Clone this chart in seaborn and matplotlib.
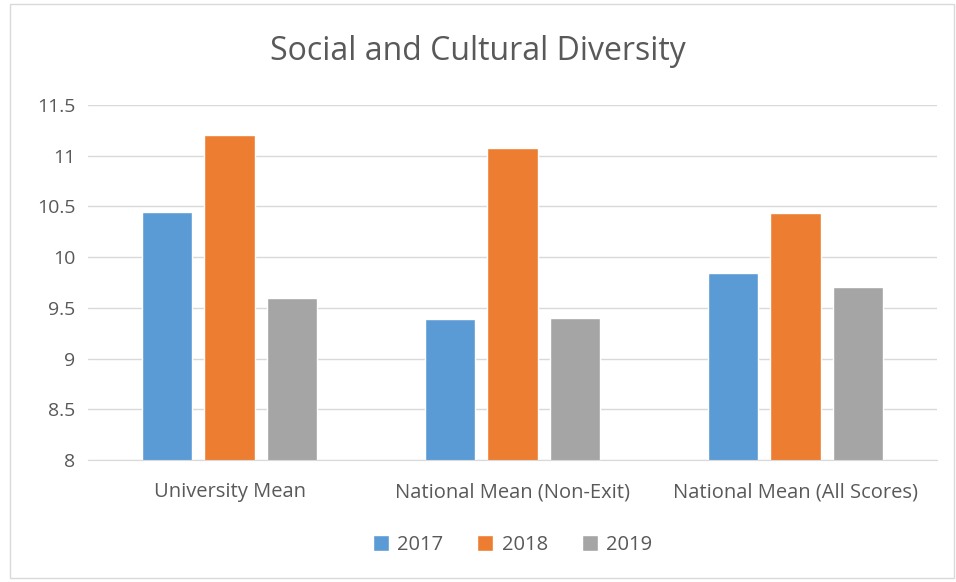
import pandas as pd
import seaborn as sns
import matplotlib.pyplot as plt
from matplotlib.patches import Rectangle

# Values
categories = ["University Mean", "National Mean (Non-Exit)", "National Mean (All Scores)"]
years = ["2017", "2018", "2019"]
scores_2017 = [10.45, 9.39, 9.84]
scores_2018 = [11.20, 11.08, 10.44]
scores_2019 = [9.60, 9.40, 9.71]

df = pd.DataFrame({
    "category": categories * 3,
    "year": [y for y in years for _ in categories],
    "score": scores_2017 + scores_2018 + scores_2019,
})

palette = {"2017": "#5B9BD5", "2018": "#ED7D31", "2019": "#A5A5A5"}
text_color = "#595959"

sns.set_style("white")
plt.rcParams["font.family"] = ["Open Sans", "DejaVu Sans"]

fig = plt.figure(figsize=(9.56, 5.82), dpi=100)
ax = fig.add_axes([88 / 956, 1 - 460 / 582, (937 - 88) / 956, (460 - 105) / 582])

sns.barplot(data=df, x="category", y="score", hue="year", palette=palette,
            width=0.663, gap=0.2, ax=ax, legend=True, saturation=1)

ax.set_ylim(8, 11.5)
ax.set_yticks([8, 8.5, 9, 9.5, 10, 10.5, 11, 11.5])
ax.set_yticklabels(["8", "8.5", "9", "9.5", "10", "10.5", "11", "11.5"])
ax.set_xlim(-0.5, 2.5)
ax.yaxis.grid(True, color="#D9D9D9", linewidth=1)
ax.set_axisbelow(True)
for side in ["top", "right", "left"]:
    ax.spines[side].set_visible(False)
ax.spines["bottom"].set_color("#D9D9D9")
ax.tick_params(axis="y", length=0, colors=text_color, labelsize=14, pad=9)
ax.tick_params(axis="x", length=0, colors=text_color, labelsize=14.5, pad=16)
ax.set_xlabel("")
ax.set_ylabel("")

fig.text(0.5, 1 - 52 / 582, "Social and Cultural Diversity", ha="center", va="center",
         fontsize=23, color=text_color)

ax.legend(loc="center", bbox_to_anchor=(0.5, (460 - 545) / (460 - 105)), ncol=3,
          frameon=False, fontsize=14.5, labelcolor=text_color,
          handlelength=0.8, handleheight=0.8, handletextpad=0.4, columnspacing=1.7)

# outer chart border
fig.patches.append(Rectangle((10 / 956, 4 / 582), 944 / 956, 574 / 582, transform=fig.transFigure,
                             fill=False, edgecolor="#D9D9D9", linewidth=1))

fig.savefig("out.png", dpi=100)
